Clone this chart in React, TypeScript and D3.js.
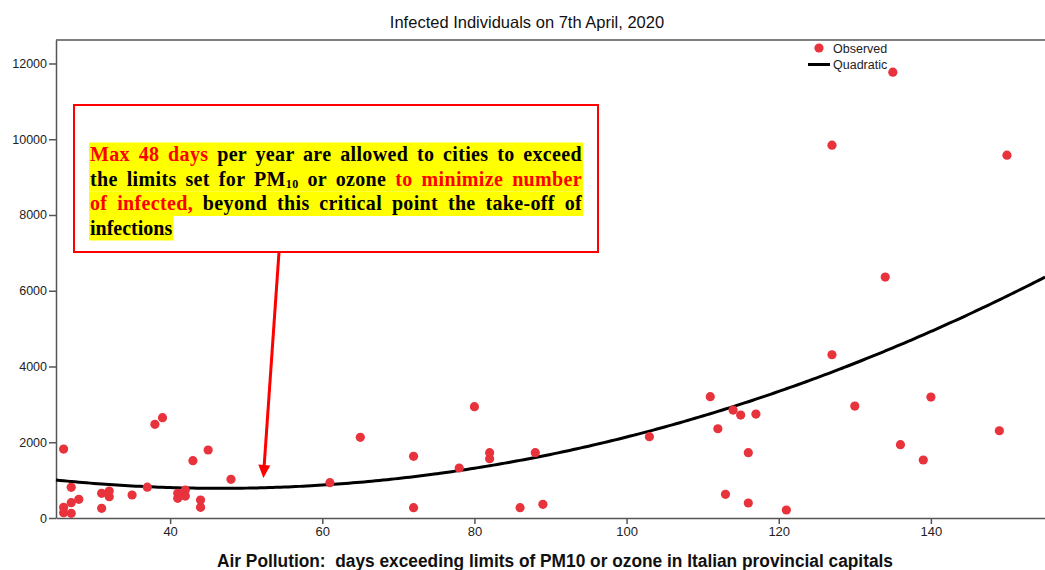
import React, { useEffect, useRef } from "react";
import * as d3 from "d3";

// Observed cities: days exceeding limits (x) and infected individuals (y)
const pollutionDays = [26, 26, 26, 27, 27, 27, 28, 31, 31, 32, 32, 35, 37, 38, 39, 41, 41, 42, 42, 43, 44, 44, 45, 48, 61, 65, 72, 72, 78, 80, 82, 82, 86, 88, 89, 103, 111, 112, 113, 114, 115, 116, 116, 117, 121, 127, 127, 130, 134, 135, 136, 139, 140, 149, 150];
const infectedCount = [1820, 282, 140, 810, 404, 124, 493, 651, 256, 712, 563, 607, 815, 2472, 2648, 519, 651, 739, 580, 1513, 475, 282, 1795, 1021, 932, 2130, 1628, 272, 1320, 2938, 1724, 1565, 272, 1724, 360, 2146, 3203, 2357, 625, 2850, 2718, 1724, 396, 2745, 211, 9844, 4310, 2956, 6360, 11771, 1935, 1531, 3193, 2304, 9580];

// Quadratic fit: intercept, linear, quadratic coefficients
const quadCoef = [1810, -44.13, 0.4741];

const xTicks = [40, 60, 80, 100, 120, 140];
const yTicks = [0, 2000, 4000, 6000, 8000, 10000, 12000];
const xDomain = [25, 155];
const yDomain = [0, 12620];

const titleText = "Infected Individuals on 7th April, 2020";
const xAxisTitle = "Air Pollution:  days exceeding limits of PM10 or ozone in Italian provincial capitals";
const legendLabels = ["Observed", "Quadratic"];
const arrowDays = 52; // arrow tip points near this x value

type Seg = { t: string; red?: boolean; sub?: boolean };
const noteLines: Seg[][] = [
  [{ t: "Max 48 days", red: true }, { t: " per year are allowed to cities to exceed" }],
  [{ t: "the limits set for PM" }, { t: "10", sub: true }, { t: " or ozone " }, { t: "to minimize number", red: true }],
  [{ t: "of infected,", red: true }, { t: " beyond this critical point the take-off of" }],
  [{ t: "infections" }],
];

const W = 1045;
const H = 570;
const RED = "#e8323c";

export default function App() {
  const ref = useRef<SVGSVGElement>(null);

  useEffect(() => {
    const svg = d3.select(ref.current);
    svg.selectAll("*").remove();

    const x = d3.scaleLinear().domain(xDomain).range([56, 1045]);
    const y = d3.scaleLinear().domain(yDomain).range([518, 40]);
    const axisColor = "#555";

    // title
    svg.append("text")
      .attr("x", 527).attr("y", 28)
      .attr("text-anchor", "middle")
      .attr("font-family", "Liberation Sans, Arial, sans-serif")
      .attr("font-size", 16.5)
      .attr("fill", "#111")
      .text(titleText);

    // frame top line
    svg.append("line")
      .attr("x1", x(xDomain[0])).attr("x2", x(xDomain[1]))
      .attr("y1", y(yDomain[1])).attr("y2", y(yDomain[1]))
      .attr("stroke", axisColor).attr("stroke-width", 1.5);

    // y axis
    const gy = svg.append("g").attr("transform", `translate(${x(xDomain[0])},0)`)
      .call(d3.axisLeft(y).tickValues(yTicks).tickSize(7).tickPadding(2).tickSizeOuter(0).tickFormat(d3.format("d")));
    gy.select(".domain").attr("stroke", axisColor).attr("stroke-width", 1.5);
    gy.selectAll(".tick line").attr("stroke", axisColor).attr("stroke-width", 1.5);
    gy.selectAll(".tick text")
      .attr("font-family", "Liberation Sans, Arial, sans-serif")
      .attr("font-size", 12.5).attr("fill", "#222");

    // x axis
    const gx = svg.append("g").attr("transform", `translate(0,${y(0)})`)
      .call(d3.axisBottom(x).tickValues(xTicks).tickSize(6).tickPadding(3).tickSizeOuter(0).tickFormat(d3.format("d")));
    gx.select(".domain").attr("stroke", axisColor).attr("stroke-width", 1.5);
    gx.selectAll(".tick line").attr("stroke", axisColor).attr("stroke-width", 1.5);
    gx.selectAll(".tick text")
      .attr("font-family", "Liberation Sans Narrow, Arial Narrow, Liberation Sans, sans-serif")
      .attr("font-size", 13).attr("fill", "#222");

    // x axis title
    svg.append("text")
      .attr("x", 217).attr("y", 567)
      .attr("xml:space", "preserve")
      .style("white-space", "pre")
      .attr("font-family", "Liberation Sans Narrow, Arial Narrow, Liberation Sans, sans-serif")
      .attr("font-weight", "bold")
      .attr("font-size", 17.5)
      .attr("fill", "#111")
      .attr("textLength", 676)
      .attr("lengthAdjust", "spacingAndGlyphs")
      .text(xAxisTitle);

    // quadratic curve
    const fit = (d: number) => quadCoef[0] + quadCoef[1] * d + quadCoef[2] * d * d;
    const xs = d3.range(xDomain[0], xDomain[1] + 0.001, 0.5);
    const line = d3.line<number>().x((d) => x(d)).y((d) => y(fit(d))).curve(d3.curveMonotoneX);
    svg.append("path")
      .attr("d", line(xs) as string)
      .attr("fill", "none").attr("stroke", "#000").attr("stroke-width", 3);

    // points
    svg.append("g").selectAll("circle")
      .data(pollutionDays.map((d, i) => [d, infectedCount[i]]))
      .join("circle")
      .attr("cx", (d) => x(d[0])).attr("cy", (d) => y(d[1]))
      .attr("r", 4.6).attr("fill", RED);

    // legend
    const lg = svg.append("g").attr("font-family", "Liberation Sans, Arial, sans-serif").attr("font-size", 12.5).attr("fill", "#222");
    lg.append("circle").attr("cx", 819).attr("cy", 48).attr("r", 4.6).attr("fill", RED);
    lg.append("text").attr("x", 833).attr("y", 53).text(legendLabels[0]);
    lg.append("line").attr("x1", 808).attr("x2", 830).attr("y1", 64.5).attr("y2", 64.5).attr("stroke", "#000").attr("stroke-width", 3);
    lg.append("text").attr("x", 833).attr("y", 69).text(legendLabels[1]);

    // annotation box
    const bx = 74, by = 105, bw = 524, bh = 147;
    svg.append("rect").attr("x", bx).attr("y", by).attr("width", bw).attr("height", bh)
      .attr("fill", "#fff").attr("stroke", "#ff0000").attr("stroke-width", 2);

    const textX = 90, textW = 492;
    const baselines = [161, 185.5, 210, 234.5];
    const hl = svg.append("g");
    const tg = svg.append("g")
      .attr("font-family", "Liberation Serif, Times New Roman, serif")
      .attr("font-weight", "bold")
      .attr("font-size", 20);

    noteLines.forEach((segs, li) => {
      const t = tg.append("text").attr("x", textX).attr("y", baselines[li]).attr("xml:space", "preserve");
      segs.forEach((s) => {
        const sp = t.append("tspan").attr("fill", s.red ? "#ff0000" : "#000").text(s.t);
        if (s.sub) sp.attr("font-size", 12).attr("baseline-shift", "-18%");
      });
      const node = t.node() as SVGTextElement;
      let len = node.getComputedTextLength();
      const isLast = li === noteLines.length - 1;
      if (!isLast) {
        const full = segs.map((s) => s.t).join("");
        const spaces = full.split(" ").length - 1;
        const chars = full.length;
        const extraTotal = textW - len;
        const ls = Math.max(0, (extraTotal * 0.35) / chars);
        t.attr("letter-spacing", ls);
        const len2 = node.getComputedTextLength();
        t.attr("word-spacing", (textW - len2) / spaces);
        len = textW;
      }
      hl.append("rect")
        .attr("x", textX - 1).attr("y", baselines[li] - 18.5)
        .attr("width", len + 2).attr("height", 24.5)
        .attr("fill", "#ffff00");
    });

    // arrow
    const tipX = x(arrowDays) + 2;
    const tipY = 478;
    const startX = 279, startY = by + bh;
    svg.append("line")
      .attr("x1", startX).attr("y1", startY).attr("x2", tipX + 0.6).attr("y2", tipY - 10)
      .attr("stroke", "#ff0000").attr("stroke-width", 3);
    const ang = Math.atan2(tipY - startY, tipX - startX);
    const hlen = 13, hw = 6;
    const bxp = tipX - hlen * Math.cos(ang), byp = tipY - hlen * Math.sin(ang);
    const px = -Math.sin(ang), py = Math.cos(ang);
    svg.append("path")
      .attr("d", `M${tipX},${tipY}L${bxp + px * hw},${byp + py * hw}L${bxp - px * hw},${byp - py * hw}Z`)
      .attr("fill", "#ff0000");
  }, []);

  return (
    <svg
      ref={ref}
      width={W}
      height={H}
      style={{ position: "absolute", left: 0, top: 0, background: "#fff" }}
    />
  );
}
